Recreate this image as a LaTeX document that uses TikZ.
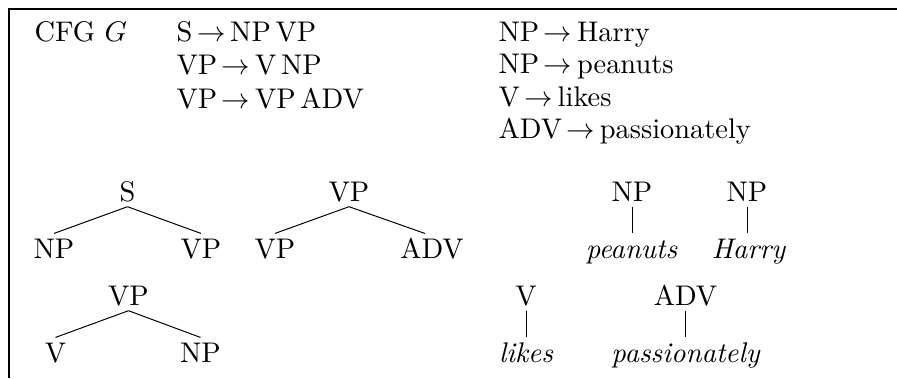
\documentclass[tikz,border=0pt]{standalone}
\begin{document}
\begin{tikzpicture}[x=0.3521pt,y=-0.3521pt,
  lbl/.style={anchor=base, inner sep=1.8pt, text height=6.83pt, text depth=0pt},
  txt/.style={anchor=base west, inner sep=0pt},
  edge/.style={line width=0.35pt},
  frame/.style={line width=0.8pt}]
\newcommand\arr{\,$\rightarrow$\,}
\useasboundingbox (0,0) rectangle (897,378);
\draw[frame] (897,8.8) -- (8.8,8.8) -- (8.8,378);
% grammar
\node[txt] (cfg) at (34,41) {CFG $G$};
\node[txt] (r1) at (176,41) {S\arr NP\,VP};
\node[txt] (r2) at (176,74.5) {VP\arr V\,NP};
\node[txt] (r3) at (176,108) {VP\arr VP\,ADV};
\node[txt] (r4) at (498,41) {NP\arr Harry};
\node[txt] (r5) at (498,73.5) {NP\arr peanuts};
\node[txt] (r6) at (498,106) {V\arr likes};
\node[txt] (r7) at (498,138.5) {ADV\arr passionately};
% tree 1
\node[lbl] (s) at (127.5,201) {S};
\node[lbl] (np1) at (54,258.5) {NP};
\node[lbl] (vp1) at (201,258.5) {VP};
\draw[edge] (s.south) -- (np1.north);
\draw[edge] (s.south) -- (vp1.north);
% tree 2
\node[lbl] (vp2) at (349,201) {VP};
\node[lbl] (vp3) at (275,258.5) {VP};
\node[lbl] (adv1) at (432,258.5) {ADV};
\draw[edge] (vp2.south) -- (vp3.north);
\draw[edge] (vp2.south) -- ([xshift=-2.5pt]adv1.north);
% tree 3
\node[lbl] (vp4) at (128.5,305) {VP};
\node[lbl] (v1) at (55.5,362.5) {V};
\node[lbl] (np2) at (200.5,362.5) {NP};
\draw[edge] (vp4.south) -- (v1.north);
\draw[edge] (vp4.south) -- (np2.north);
% lexical
\node[lbl] (npa) at (632,201) {NP};
\node[lbl] (pea) at (631.5,258.5) {\itshape peanuts};
\draw[edge] (npa.south) -- (npa.south |- pea.north);
\node[lbl] (npb) at (747,201) {NP};
\node[lbl] (har) at (748.5,258.5) {\itshape Harry};
\draw[edge] (npb.south) -- (npb.south |- har.north);
\node[lbl] (v2) at (526,305) {V};
\node[lbl] (lik) at (526,362.5) {\itshape likes};
\draw[edge] (v2.south) -- (v2.south |- lik.north);
\node[lbl] (adv2) at (685.5,305) {ADV};
\node[lbl] (pas) at (685.5,362.5) {\itshape passionately};
\draw[edge] (adv2.south) -- (adv2.south |- pas.north);
\end{tikzpicture}
\end{document}
